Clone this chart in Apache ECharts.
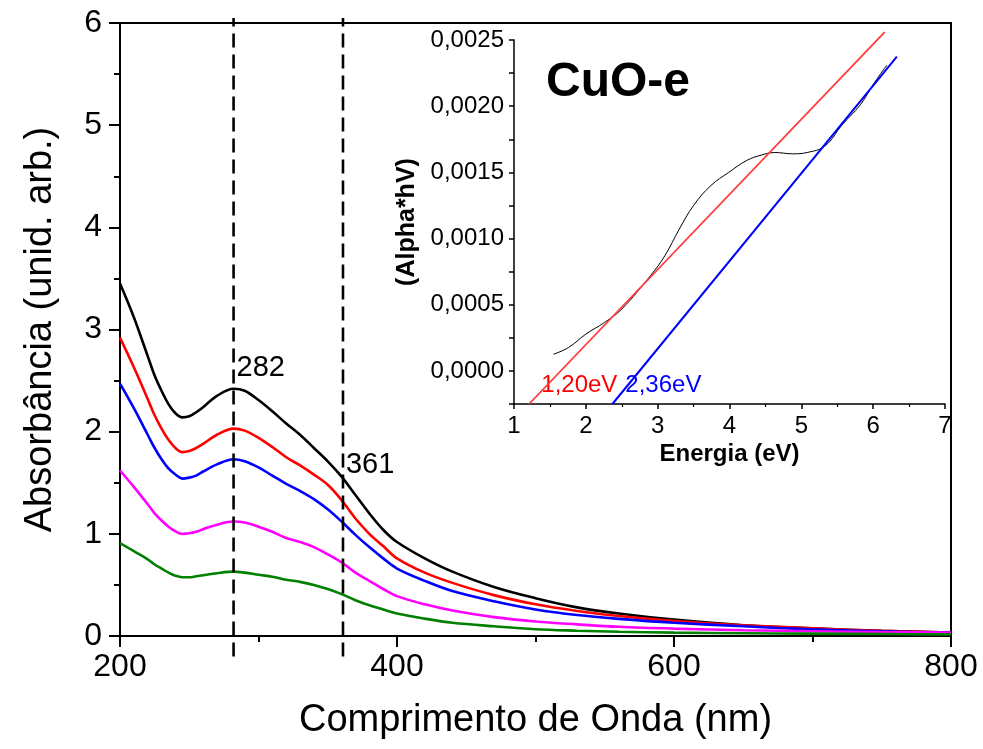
<!DOCTYPE html>
<html lang="pt">
<head>
    <meta charset="UTF-8">
    <title>CuO-e</title>
    <script src="https://cdn.jsdelivr.net/npm/echarts@6/dist/echarts.min.js"></script>
    <style>
        html, body { margin: 0; padding: 0; background: #fff; }
        #chart { width: 983px; height: 749px; }
    </style>
</head>
<body>
<div id="chart"></div>
<script>
    // comprimento de onda (nm)
    var wavelength = [200, 210, 220, 225, 230, 235, 240, 245, 250, 255, 260, 270, 282, 290, 300, 310, 320, 330, 340, 350, 360, 370, 380, 390, 400, 420, 440, 470, 500, 530, 560, 600, 650, 700, 750, 800];
    var absBlack   = [3.45, 3.12, 2.74, 2.55, 2.40, 2.27, 2.18, 2.14, 2.15, 2.19, 2.24, 2.35, 2.42, 2.40, 2.31, 2.20, 2.08, 1.97, 1.84, 1.71, 1.56, 1.38, 1.20, 1.04, 0.92, 0.76, 0.63, 0.48, 0.37, 0.28, 0.22, 0.16, 0.105, 0.075, 0.05, 0.033];
    var absRed     = [2.92, 2.63, 2.32, 2.16, 2.03, 1.92, 1.84, 1.80, 1.81, 1.84, 1.88, 1.97, 2.03, 2.01, 1.94, 1.85, 1.75, 1.67, 1.58, 1.48, 1.33, 1.15, 1.00, 0.88, 0.76, 0.62, 0.52, 0.40, 0.31, 0.245, 0.195, 0.147, 0.105, 0.075, 0.05, 0.033];
    var absBlue    = [2.47, 2.23, 1.97, 1.84, 1.73, 1.64, 1.58, 1.54, 1.55, 1.57, 1.61, 1.68, 1.73, 1.71, 1.65, 1.57, 1.49, 1.42, 1.34, 1.24, 1.12, 0.99, 0.87, 0.76, 0.66, 0.54, 0.44, 0.34, 0.26, 0.205, 0.168, 0.13, 0.095, 0.065, 0.045, 0.033];
    var absMagenta = [1.62, 1.46, 1.29, 1.20, 1.13, 1.07, 1.025, 1.00, 1.005, 1.02, 1.045, 1.09, 1.12, 1.11, 1.07, 1.02, 0.96, 0.92, 0.87, 0.80, 0.72, 0.62, 0.54, 0.46, 0.39, 0.31, 0.25, 0.185, 0.142, 0.114, 0.09, 0.072, 0.057, 0.046, 0.038, 0.033];
    var absGreen   = [0.91, 0.83, 0.75, 0.70, 0.66, 0.62, 0.59, 0.575, 0.575, 0.585, 0.595, 0.615, 0.63, 0.62, 0.60, 0.58, 0.55, 0.53, 0.50, 0.46, 0.41, 0.35, 0.30, 0.26, 0.22, 0.17, 0.13, 0.095, 0.066, 0.052, 0.042, 0.033, 0.027, 0.023, 0.019, 0.016];
    var peaks = [282, 361];
    var peakLabelY = [2.62, 1.67];

    // inset: (Alpha*hV) x Energia
    var energy   = [1.55, 1.76, 2.0, 2.26, 2.5, 2.9, 3.1, 3.3, 3.5, 3.74, 3.99, 4.24, 4.44, 4.63, 4.88, 5.08, 5.33, 5.57, 5.82, 6.02, 6.19];
    var alphaHv  = [0.000126, 0.000177, 0.000278, 0.000366, 0.000467, 0.00072, 0.00087, 0.00107, 0.00125, 0.00140, 0.00150, 0.00159, 0.00163, 0.00165, 0.00164, 0.00165, 0.00170, 0.00186, 0.00201, 0.00218, 0.00231];
    var fitRedX  = [1.21, 6.16];
    var fitRedY  = [-0.00025, 0.00256];
    var fitBlueX = [2.37, 6.33];
    var fitBlueY = [-0.00025, 0.002374];
    var gapLabels = ['1,20eV', '2,36eV'];
    var gapLabelX = [1.38, 2.55];
    var gapLabelY = -0.00011;

    function pairs(xs, ys) {
        return xs.map(function (x, i) { return [x, ys[i]]; });
    }

    var font = 'Liberation Sans, Arial, sans-serif';
    var chart = echarts.init(document.getElementById('chart'));

    function curve(values, color) {
        return {
            type: 'line', xAxisIndex: 0, yAxisIndex: 0,
            data: pairs(wavelength, values),
            smooth: 0.35, symbol: 'none',
            lineStyle: { color: color, width: 2.6 }
        };
    }

    var series = [
        curve(absBlack, '#000000'),
        curve(absRed, '#ff0000'),
        curve(absBlue, '#0000ff'),
        curve(absMagenta, '#ff00ff'),
        curve(absGreen, '#008000')
    ];
    peaks.forEach(function (p, i) {
        series.push({
            type: 'line', xAxisIndex: 0, yAxisIndex: 0, clip: false,
            data: [[p, -0.2], [p, 6.05]], symbol: 'none',
            lineStyle: { color: '#000', width: 2.6, type: [14, 7] }
        });
        series.push({
            type: 'scatter', xAxisIndex: 0, yAxisIndex: 0,
            data: [[p, peakLabelY[i]]], symbolSize: 0,
            itemStyle: { opacity: 1 },
            label: { show: true, position: 'right', distance: 3, formatter: String(p),
                     color: '#000', fontSize: 29, fontFamily: font }
        });
    });
    series.push({
        type: 'line', xAxisIndex: 1, yAxisIndex: 1,
        data: pairs(energy, alphaHv), smooth: 0.4, symbol: 'none',
        lineStyle: { color: '#000', width: 1 }
    });
    series.push({
        type: 'line', xAxisIndex: 1, yAxisIndex: 1, clip: false,
        data: pairs(fitRedX, fitRedY), symbol: 'none',
        lineStyle: { color: '#ff3b3b', width: 1.8 }
    });
    series.push({
        type: 'line', xAxisIndex: 1, yAxisIndex: 1, clip: false,
        data: pairs(fitBlueX, fitBlueY), symbol: 'none',
        lineStyle: { color: '#0000ff', width: 2 }
    });
    gapLabels.forEach(function (t, i) {
        series.push({
            type: 'scatter', xAxisIndex: 1, yAxisIndex: 1,
            data: [[gapLabelX[i], gapLabelY]], symbolSize: 0,
            itemStyle: { opacity: 1 },
            label: { show: true, position: 'right', distance: 0, formatter: t,
                     color: i === 0 ? '#ff0000' : '#0000ff', fontSize: 24, fontFamily: font }
        });
    });

    var option = {
        animation: false,
        backgroundColor: '#fff',
        grid: [
            { left: 120, right: 32, top: 23, bottom: 113, show: true, borderColor: '#000', borderWidth: 2 },
            { left: 514, right: 38, top: 40, bottom: 345 }
        ],
        xAxis: [{
            type: 'value', gridIndex: 0, min: 200, max: 800, interval: 200,
            name: 'Comprimento de Onda (nm)', nameLocation: 'middle', nameGap: 66,
            nameTextStyle: { fontSize: 38, fontFamily: font, color: '#000' },
            axisLine: { onZero: false, lineStyle: { color: '#000', width: 2 } },
            axisTick: { inside: false, length: 11, lineStyle: { width: 2 } },
            minorTick: { show: true, splitNumber: 2, length: 6, lineStyle: { color: '#000', width: 2 } },
            splitLine: { show: false },
            axisLabel: { fontSize: 32, fontFamily: font, color: '#000', margin: 15 }
        }, {
            type: 'value', gridIndex: 1, min: 1, max: 7, interval: 1,
            name: 'Energia (eV)', nameLocation: 'middle', nameGap: 38,
            nameTextStyle: { fontSize: 24, fontWeight: 'bold', fontFamily: font, color: '#000' },
            axisLine: { onZero: false, lineStyle: { color: '#000', width: 1.5 } },
            axisTick: { length: 5, lineStyle: { width: 1.5 } },
            minorTick: { show: true, splitNumber: 2, length: 3, lineStyle: { color: '#000', width: 1.2 } },
            splitLine: { show: false },
            axisLabel: { fontSize: 24, fontFamily: font, color: '#000', margin: 10 }
        }],
        yAxis: [{
            type: 'value', gridIndex: 0, min: 0, max: 6, interval: 1,
            name: 'Absorbância (unid. arb.)', nameLocation: 'middle', nameGap: 60, nameRotate: 90,
            nameTextStyle: { fontSize: 38, fontFamily: font, color: '#000' },
            axisLine: { onZero: false, lineStyle: { color: '#000', width: 2 } },
            axisTick: { length: 11, lineStyle: { width: 2 } },
            minorTick: { show: true, splitNumber: 2, length: 6, lineStyle: { color: '#000', width: 2 } },
            splitLine: { show: false },
            axisLabel: { fontSize: 32, fontFamily: font, color: '#000', margin: 18 }
        }, {
            type: 'value', gridIndex: 1, min: -0.00025, max: 0.0025, interval: 0.00025,
            name: '(Alpha*hV)', nameLocation: 'middle', nameGap: 94, nameRotate: 90,
            nameTextStyle: { fontSize: 25, fontWeight: 'bold', fontFamily: font, color: '#000' },
            axisLine: { onZero: false, lineStyle: { color: '#000', width: 1.5 } },
            axisTick: { length: 5, lineStyle: { width: 1.5 } },
            splitLine: { show: false },
            axisLabel: {
                fontSize: 24, fontFamily: font, color: '#000', margin: 10,
                formatter: function (v) {
                    var k = v / 0.0005;
                    if (Math.abs(k - Math.round(k)) > 1e-6) return '';
                    return Math.abs(v).toFixed(4).replace('.', ',');
                }
            }
        }],
        graphic: [{
            type: 'text', left: 546, top: 59,
            style: { text: 'CuO-e', fontSize: 48, fontWeight: 'bold', fontFamily: font, fill: '#000' }
        }],
        series: series
    };
    chart.setOption(option);
</script>
</body>
</html>
